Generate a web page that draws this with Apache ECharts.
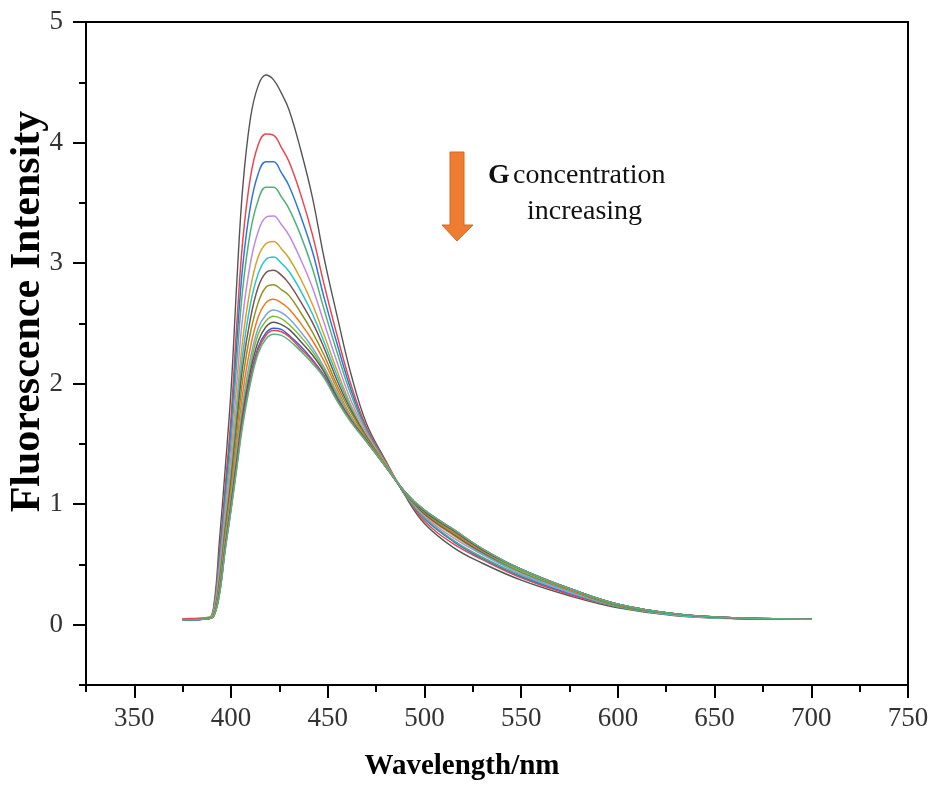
<!DOCTYPE html>
<html>
<head>
<meta charset="utf-8">
<script src="https://cdn.jsdelivr.net/npm/echarts@6/dist/echarts.min.js"></script>
<style>
html,body{margin:0;padding:0;background:#fff;}
#chartDiv{width:933px;height:785px;}
</style>
</head>
<body>
<div id="chartDiv"></div>
<script>
// wavelength grid (nm) shared by all spectra
var wavelength = [375, 388, 391, 394, 397, 400, 403, 406, 410, 414, 418, 422, 426, 430, 436, 442, 448, 455, 462, 470, 480, 490, 500, 515, 530, 550, 575, 600, 630, 665, 700];

// fluorescence intensity, one array per G concentration (low -> high)
var s01 = [0.05, 0.05, 0.15, 0.70, 1.30, 1.95, 2.85, 3.62, 4.20, 4.47, 4.56, 4.52, 4.41, 4.27, 3.94, 3.55, 3.05, 2.55, 2.08, 1.67, 1.36, 1.07, 0.84, 0.64, 0.51, 0.37, 0.24, 0.14, 0.075, 0.05, 0.045];
var s02 = [0.05, 0.05, 0.13, 0.60, 1.15, 1.73, 2.50, 3.18, 3.71, 3.98, 4.07, 4.06, 3.96, 3.84, 3.57, 3.24, 2.83, 2.39, 1.99, 1.64, 1.35, 1.08, 0.86, 0.67, 0.54, 0.39, 0.25, 0.15, 0.08, 0.05, 0.045];
var s03 = [0.05, 0.05, 0.12, 0.55, 1.08, 1.62, 2.34, 2.97, 3.47, 3.74, 3.84, 3.84, 3.75, 3.64, 3.39, 3.10, 2.72, 2.32, 1.95, 1.62, 1.34, 1.08, 0.88, 0.69, 0.55, 0.40, 0.26, 0.15, 0.08, 0.05, 0.045];
var s04 = [0.05, 0.05, 0.12, 0.51, 1.01, 1.52, 2.19, 2.78, 3.26, 3.52, 3.63, 3.63, 3.55, 3.45, 3.23, 2.96, 2.62, 2.25, 1.91, 1.61, 1.34, 1.08, 0.89, 0.70, 0.56, 0.41, 0.27, 0.15, 0.08, 0.05, 0.045];
var s05 = [0.04, 0.05, 0.11, 0.46, 0.93, 1.41, 2.01, 2.55, 3.00, 3.26, 3.38, 3.39, 3.32, 3.23, 3.03, 2.80, 2.51, 2.17, 1.86, 1.59, 1.33, 1.09, 0.90, 0.72, 0.58, 0.42, 0.27, 0.16, 0.08, 0.05, 0.045];
var s06 = [0.05, 0.06, 0.10, 0.41, 0.86, 1.31, 1.86, 2.36, 2.79, 3.05, 3.16, 3.18, 3.12, 3.04, 2.87, 2.66, 2.41, 2.10, 1.82, 1.57, 1.33, 1.09, 0.91, 0.74, 0.59, 0.43, 0.28, 0.16, 0.08, 0.05, 0.045];
var s07 = [0.04, 0.05, 0.09, 0.38, 0.82, 1.25, 1.76, 2.24, 2.66, 2.91, 3.03, 3.05, 3.00, 2.93, 2.77, 2.58, 2.35, 2.06, 1.80, 1.56, 1.32, 1.09, 0.92, 0.75, 0.59, 0.43, 0.28, 0.16, 0.08, 0.05, 0.045];
var s08 = [0.05, 0.05, 0.09, 0.36, 0.79, 1.20, 1.68, 2.14, 2.54, 2.80, 2.92, 2.94, 2.90, 2.83, 2.68, 2.51, 2.30, 2.02, 1.78, 1.56, 1.32, 1.09, 0.92, 0.75, 0.60, 0.44, 0.29, 0.16, 0.09, 0.05, 0.045];
var s09 = [0.05, 0.06, 0.09, 0.34, 0.75, 1.14, 1.60, 2.03, 2.42, 2.67, 2.80, 2.82, 2.78, 2.73, 2.59, 2.43, 2.24, 1.98, 1.76, 1.55, 1.32, 1.09, 0.93, 0.76, 0.61, 0.44, 0.29, 0.16, 0.09, 0.055, 0.045];
var s10 = [0.05, 0.05, 0.08, 0.31, 0.71, 1.09, 1.51, 1.92, 2.30, 2.55, 2.67, 2.70, 2.67, 2.62, 2.50, 2.36, 2.19, 1.95, 1.73, 1.54, 1.32, 1.10, 0.94, 0.77, 0.61, 0.45, 0.29, 0.17, 0.09, 0.055, 0.045];
var s11 = [0.04, 0.05, 0.08, 0.29, 0.68, 1.04, 1.44, 1.83, 2.21, 2.46, 2.57, 2.61, 2.59, 2.54, 2.43, 2.30, 2.14, 1.92, 1.72, 1.53, 1.31, 1.10, 0.94, 0.78, 0.62, 0.45, 0.30, 0.17, 0.09, 0.055, 0.045];
var s12 = [0.05, 0.05, 0.08, 0.28, 0.67, 1.02, 1.41, 1.79, 2.15, 2.41, 2.52, 2.56, 2.54, 2.49, 2.39, 2.27, 2.12, 1.90, 1.71, 1.53, 1.31, 1.10, 0.94, 0.78, 0.62, 0.45, 0.30, 0.17, 0.09, 0.055, 0.045];
var s13 = [0.04, 0.05, 0.07, 0.27, 0.65, 1.00, 1.37, 1.74, 2.10, 2.35, 2.47, 2.51, 2.49, 2.45, 2.35, 2.24, 2.10, 1.88, 1.70, 1.53, 1.31, 1.10, 0.94, 0.78, 0.62, 0.46, 0.30, 0.17, 0.09, 0.055, 0.045];
var s14 = [0.04, 0.05, 0.07, 0.26, 0.64, 0.97, 1.34, 1.70, 2.05, 2.30, 2.42, 2.46, 2.45, 2.40, 2.31, 2.20, 2.07, 1.87, 1.69, 1.52, 1.31, 1.10, 0.95, 0.79, 0.63, 0.46, 0.30, 0.17, 0.09, 0.055, 0.045];
var s15 = [0.05, 0.05, 0.07, 0.26, 0.63, 0.96, 1.32, 1.68, 2.03, 2.28, 2.40, 2.44, 2.43, 2.39, 2.29, 2.19, 2.06, 1.86, 1.69, 1.52, 1.31, 1.10, 0.95, 0.79, 0.63, 0.46, 0.30, 0.17, 0.09, 0.055, 0.045];
var s16 = [0.04, 0.05, 0.07, 0.25, 0.62, 0.95, 1.30, 1.65, 2.00, 2.25, 2.37, 2.41, 2.40, 2.36, 2.27, 2.17, 2.05, 1.85, 1.68, 1.52, 1.31, 1.10, 0.95, 0.79, 0.63, 0.46, 0.30, 0.17, 0.09, 0.055, 0.045];

var lineColors = ['#555555', '#e8474f', '#2f78d6', '#52b07a', '#c08ae0', '#d4a42a', '#2bc4cc', '#7d5353',
                  '#8e9424', '#f2761c', '#7aa6d6', '#7dbd3a', '#595959', '#3a5ed4', '#e04a5a', '#55b47a'];

var xMajor = [350, 400, 450, 500, 550, 600, 650, 700, 750];
var yMajor = [0, 1, 2, 3, 4, 5];

(function(){
    var myChart = echarts.init(document.getElementById('chartDiv'));
    var allSpectra = [s01, s02, s03, s04, s05, s06, s07, s08, s09, s10, s11, s12, s13, s14, s15, s16];

    var series = allSpectra.map(function(vals, k){
        return {
            name: 'c' + (k + 1),
            type: 'line',
            xAxisIndex: 0,
            yAxisIndex: 0,
            data: wavelength.map(function(w, j){ return [w, vals[j]]; }),
            showSymbol: false,
            smooth: 0.4,
            lineStyle: { color: lineColors[k], width: k === 0 ? 1.4 : 1.5 },
            z: 2 + k
        };
    });

    var serif = 'Liberation Serif, Times New Roman, serif';

    var option = {
        animation: false,
        backgroundColor: '#fff',
        grid: {
            show: true,
            left: 86, right: 25, top: 22, bottom: 100,
            outerBoundsMode: 'none',
            containLabel: false,
            borderColor: '#000',
            borderWidth: 2
        },
        xAxis: [{
            type: 'value',
            min: 325, max: 750,
            position: 'bottom',
            axisLine: { onZero: false, lineStyle: { color: '#000', width: 2 } },
            axisTick: { customValues: xMajor, length: 13, lineStyle: { color: '#000', width: 2 } },
            axisLabel: { customValues: xMajor, margin: 20, fontSize: 27, color: '#333', fontFamily: serif },
            splitLine: { show: false },
            name: 'Wavelength/nm',
            nameLocation: 'middle',
            nameGap: 67,
            nameMoveOverlap: false,
            nameTextStyle: { fontSize: 29, fontWeight: 'bold', color: '#000', fontFamily: serif, padding: [0, 70, 0, 0] }
        }, {
            // minor ticks
            type: 'value',
            min: 325, max: 750, interval: 25,
            position: 'bottom',
            axisLine: { show: false, onZero: false },
            axisTick: { length: 7, lineStyle: { color: '#000', width: 2 } },
            axisLabel: { show: false },
            splitLine: { show: false }
        }],
        yAxis: [{
            type: 'value',
            min: -0.5, max: 5,
            position: 'left',
            axisLine: { show: true, onZero: false, lineStyle: { color: '#000', width: 2 } },
            axisTick: { show: true, customValues: yMajor, length: 13, lineStyle: { color: '#000', width: 2 } },
            axisLabel: { customValues: yMajor, margin: 23, fontSize: 27, color: '#333', fontFamily: serif },
            splitLine: { show: false },
            name: 'Fluorescence Intensity',
            nameLocation: 'middle',
            nameGap: 37,
            nameMoveOverlap: false,
            nameTextStyle: { fontSize: 42, fontWeight: 'bold', color: '#000', fontFamily: serif, padding: [0, 0, 0, 84] }
        }, {
            // minor ticks
            type: 'value',
            min: -0.5, max: 5, interval: 0.5,
            position: 'left',
            axisLine: { show: false, onZero: false },
            axisTick: { show: true, length: 7, lineStyle: { color: '#000', width: 2 } },
            axisLabel: { show: false },
            splitLine: { show: false }
        }],
        graphic: [{
            type: 'polygon',
            shape: { points: [[450, 152], [464, 152], [464, 225], [473, 225], [457, 241], [442, 225], [450, 225]] },
            style: { fill: '#ee7d31', stroke: '#d4691f', lineWidth: 1 },
            z: 100
        }, {
            type: 'text',
            left: 488, top: 162,
            style: {
                text: '{b|G} {n|concentration}',
                rich: {
                    b: { fontSize: 28, fontWeight: 'bold', fontFamily: serif, fill: '#111' },
                    n: { fontSize: 28, fontFamily: serif, fill: '#111' }
                }
            },
            z: 100
        }, {
            type: 'text',
            left: 527, top: 198,
            style: { text: 'increasing', fontSize: 28, fontFamily: serif, fill: '#111' },
            z: 100
        }],
        series: series
    };

    myChart.setOption(option);
})();
</script>
</body>
</html>
